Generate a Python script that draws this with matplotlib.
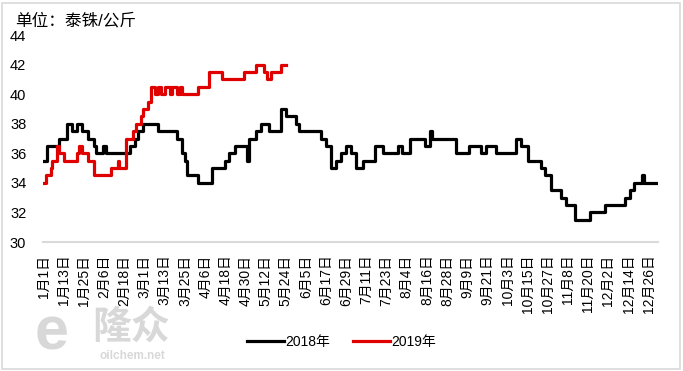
import numpy as np
import pandas as pd
import matplotlib
matplotlib.use("Agg")
import matplotlib.pyplot as plt
from matplotlib.patches import Rectangle

plt.rcParams['font.family'] = ['Liberation Sans', 'Noto Sans CJK SC', 'DejaVu Sans']

# day index (0 = 1月1日) where the price changes, and the new price
days_2018 = [0, 2, 9, 14, 17, 20, 23, 26, 30, 31, 35, 37, 51, 54, 56, 59, 68, 79, 82, 84, 85,
             92, 100, 108, 110, 114, 121, 122, 126, 129, 134, 141, 144, 150, 152, 165, 168,
             171, 174, 177, 180, 183, 186, 190, 197, 202, 211, 213, 218, 227, 230, 231, 245,
             253, 260, 263, 269, 281, 284, 288, 296, 298, 302, 308, 311, 316, 325, 334, 346,
             349, 351, 356, 357, 365]
price_2018 = [35.5, 36.5, 37, 38, 37.5, 38, 37.5, 37, 36.5, 36, 36.5, 36, 36.5, 37, 37.5, 38,
              37.5, 37, 36, 35.5, 34.5, 34, 35, 35.5, 36, 36.5, 35.5, 37, 37.5, 38, 37.5, 39,
              38.5, 38, 37.5, 37, 36.5, 35, 35.5, 36, 36.5, 36, 35, 35.5, 36.5, 36, 36.5, 36,
              37, 36.5, 37.5, 37, 36, 36.5, 36, 36.5, 36, 37, 36.5, 35.5, 35, 34.5, 33.5, 33,
              32.5, 31.5, 32, 32.5, 33, 33.5, 34, 34.5, 34, 34]

days_2019 = [0, 1, 4, 5, 8, 9, 12, 20, 21, 23, 26, 30, 40, 44, 45, 49, 53, 55, 58, 59, 62, 64,
             66, 68, 70, 72, 75, 76, 79, 81, 82, 92, 98, 106, 119, 126, 131, 133, 135, 141, 144]
price_2019 = [34, 34.5, 35, 35.5, 36.5, 36, 35.5, 36, 36.5, 36, 35.5, 34.5, 35, 35.5, 35, 37,
              37.5, 38, 38.5, 39, 39.5, 40.5, 40, 40.5, 40, 40.5, 40, 40.5, 40, 40.5, 40, 40.5,
              41.5, 41, 41.5, 42, 41.5, 41, 41.5, 42, 42]

# the category axis runs on a 366-day calendar (labels every 12 days)
tick_dates = pd.date_range('2020-01-01', '2020-12-31', freq='12D')
tick_days = [d.dayofyear - 1 for d in tick_dates]
tick_labels = [f"{d.month}月{d.day}日" for d in tick_dates]

fig = plt.figure(figsize=(6.83, 3.71), dpi=100)
ax = fig.add_axes([43/683, 1-242/371, 615/683, 207/371])

ax.plot(days_2018, price_2018, drawstyle='steps-post', color='black', lw=2.3, label='2018年')
ax.plot(days_2019, price_2019, drawstyle='steps-post', color='#e00000', lw=2.3, label='2019年')

ax.set_xlim(-0.5, 365.5)
ax.set_ylim(30, 44)
ax.set_yticks(np.arange(30, 45, 2))
ax.set_xticks(tick_days)
ax.set_xticklabels(tick_labels, rotation=90, fontsize=10)
ax.tick_params(axis='x', length=0, pad=9)
ax.tick_params(axis='y', length=0, pad=12, labelsize=10.5)
for s in ['left', 'right', 'top']:
    ax.spines[s].set_visible(False)
ax.spines['bottom'].set_color('#d9d9d9')
ax.spines['bottom'].set_linewidth(1.5)

fig.text(15/683, 1-21/371, '单位：泰铢/公斤', fontsize=12, va='center', ha='left')

# watermark (drawn behind everything)
fig.text(52/683, 1-334/371, 'e', fontsize=44, fontweight='bold', color='#d8d8d8',
         ha='center', va='center', zorder=0)
fig.text(131/683, 1-327/371, '隆众', fontsize=28, fontweight='bold', color='#d8d8d8',
         ha='center', va='center', family=['Noto Sans CJK SC'], zorder=0)
fig.text(132/683, 1-356/371, 'oilchem.net', fontsize=8.5, fontweight='bold', color='#d8d8d8',
         ha='center', va='center', zorder=0)

fig.legend(loc='center', bbox_to_anchor=(0.5, 1-342/371), ncol=2, frameon=False,
           fontsize=10, handlelength=2.7, handletextpad=0.1, columnspacing=1.6)

fig.patches.append(Rectangle((2/683, 2/371), 678/683, 366/371, transform=fig.transFigure,
                             fill=False, edgecolor='#d9d9d9', lw=1.2))

fig.savefig('out.png', dpi=100)
